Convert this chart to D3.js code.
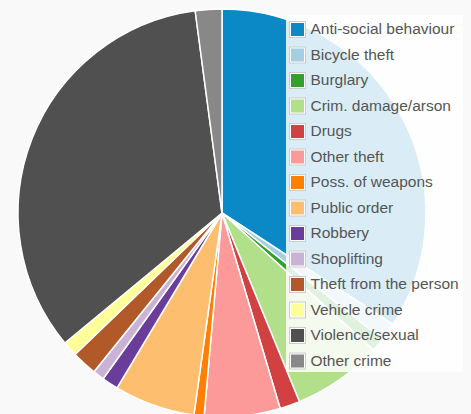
<!DOCTYPE html>
<html>
<head>
<meta charset="utf-8">
<script src="https://cdn.jsdelivr.net/npm/d3@7"></script>
<style>
  html, body { margin: 0; padding: 0; background: #f9f9f9; }
  svg { display: block; }
</style>
</head>
<body>
<svg id="chart" width="471" height="414"></svg>
<script>
const categories = ['Anti-social behaviour', 'Bicycle theft', 'Burglary', 'Crim. damage/arson', 'Drugs', 'Other theft', 'Poss. of weapons', 'Public order', 'Robbery', 'Shoplifting', 'Theft from the person', 'Vehicle crime', 'Violence/sexual', 'Other crime'];
const counts = [342, 14, 11, 71, 16, 60, 8, 64, 13, 9, 20, 12, 339, 21];
const colours = ['#0a89c6', '#a6cee3', '#33a02c', '#b2df8a', '#d24141', '#fb9a99', '#ff7f00', '#fdbf6f', '#6a3d9a', '#cab2d6', '#b15928', '#ffff99', '#505050', '#888888'];

const svg = d3.select('#chart');
const cx = 222, cy = 213, radius = 204;

const rows = categories.map((name, i) => ({ name, value: counts[i] }));
const color = d3.scaleOrdinal().domain(categories).range(colours);

const pie = d3.pie().sort(null).value(d => d.value);
const arc = d3.arc().innerRadius(0).outerRadius(radius);

// slices
svg.append('g')
  .attr('transform', `translate(${cx},${cy})`)
  .selectAll('path')
  .data(pie(rows))
  .join('path')
  .attr('d', arc)
  .attr('fill', d => color(d.data.name))
  .attr('stroke', '#fff')
  .attr('stroke-width', 1.5)
  .attr('stroke-linejoin', 'round');

// legend, sits on top of the pie
const legend = svg.append('g').attr('class', 'legend');
legend.append('rect')
  .attr('x', 286)
  .attr('y', 15)
  .attr('width', 177)
  .attr('height', 357)
  .attr('fill', 'rgba(255,255,255,0.85)');

const rowY = d3.scaleLinear().domain([0, 1]).range([21, 46.5]);
const item = legend.selectAll('g.item')
  .data(categories)
  .join('g')
  .attr('class', 'item')
  .attr('transform', (d, i) => `translate(289,${rowY(i)})`);

item.append('rect')
  .attr('x', 0.5)
  .attr('y', 0.5)
  .attr('width', 16)
  .attr('height', 16)
  .attr('fill', '#fff')
  .attr('stroke', '#ccc');
item.append('rect')
  .attr('x', 2)
  .attr('y', 2)
  .attr('width', 13)
  .attr('height', 13)
  .attr('fill', d => color(d));
item.append('text')
  .attr('x', 21.5)
  .attr('y', 13)
  .style('font-family', 'Arial, "Liberation Sans", sans-serif')
  .style('font-size', '15.5px')
  .attr('fill', '#555')
  .text(d => d);
</script>
</body>
</html>
